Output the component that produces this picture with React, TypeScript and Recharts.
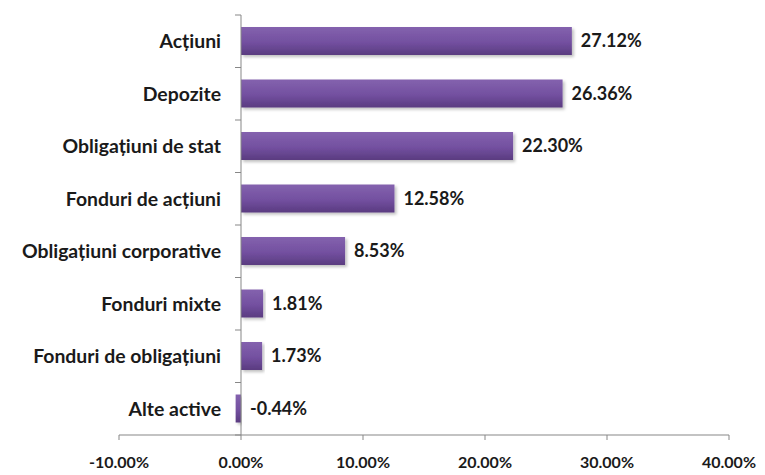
import React from 'react';
import { BarChart, Bar, XAxis, YAxis, ReferenceLine, LabelList } from 'recharts';

const categories = [
  'Acțiuni',
  'Depozite',
  'Obligațiuni de stat',
  'Fonduri de acțiuni',
  'Obligațiuni corporative',
  'Fonduri mixte',
  'Fonduri de obligațiuni',
  'Alte active',
];
const shares = [0.2712, 0.2636, 0.223, 0.1258, 0.0853, 0.0181, 0.0173, -0.0044];
const xTicks = [-0.1, 0, 0.1, 0.2, 0.3, 0.4];

const data = categories.map((name, i) => ({ name, value: shares[i] }));

const W = 765;
const H = 475;
const yAxisWidth = 10;
const plotLeft = 119;
const margin = { top: 15, right: 36, bottom: 0, left: plotLeft - yAxisWidth };
const xAxisHeight = 40;
const domain: [number, number] = [-0.1, 0.4];
const plotW = W - plotLeft - margin.right;
const plotH = H - margin.top - margin.bottom - xAxisHeight;
const zeroX = plotLeft + (plotW * (0 - domain[0])) / (domain[1] - domain[0]);
const band = plotH / categories.length;

const FONT = 'Lato, "Open Sans", sans-serif';
const AXIS = '#878787';

const pct = (v: number) => `${(v * 100).toFixed(2)}%`;

const CategoryTick = (props: any) => {
  const { y, payload, index } = props;
  const last = index === categories.length - 1;
  return (
    <g>
      <line x1={zeroX - 6} x2={zeroX} y1={y - band / 2} y2={y - band / 2} stroke={AXIS} />
      {last && <line x1={zeroX - 6} x2={zeroX} y1={y + band / 2} y2={y + band / 2} stroke={AXIS} />}
      <text
        x={zeroX - 20}
        y={y}
        dy="0.35em"
        textAnchor="end"
        fontFamily={FONT}
        fontWeight={700}
        fontSize={19.4}
        fill="#1a1a1a"
      >
        {payload.value}
      </text>
    </g>
  );
};

const ValueLabel = (props: any) => {
  const { x, y, width, height, value } = props;
  const right = Math.max(x, x + width, zeroX);
  return (
    <text
      x={right + 9}
      y={y + height / 2}
      dy="0.35em"
      fontFamily={FONT}
      fontWeight={700}
      fontSize={18}
      fill="#1a1a1a"
    >
      {pct(value)}
    </text>
  );
};

export default function App() {
  return (
    <div style={{ position: 'absolute', left: 0, top: 0, background: '#fff' }}>
      <BarChart width={W} height={H} data={data} layout="vertical" margin={margin}>
        <defs>
          <linearGradient id="barFill" x1="0" y1="0" x2="0" y2="1">
            <stop offset="0%" stopColor="#8462ae" />
            <stop offset="55%" stopColor="#7350a0" />
            <stop offset="100%" stopColor="#5a3b80" />
          </linearGradient>
          <filter id="barShadow" x="-5%" y="-20%" width="115%" height="160%">
            <feDropShadow dx="2" dy="2" stdDeviation="1.5" floodColor="#000" floodOpacity="0.25" />
          </filter>
        </defs>
        <XAxis
          type="number"
          domain={domain}
          ticks={xTicks}
          tickFormatter={pct}
          height={xAxisHeight}
          stroke={AXIS}
          tickSize={5}
          tickMargin={17}
          interval={0}
          tick={{ fontFamily: FONT, fontWeight: 700, fontSize: 16, fill: '#1a1a1a' }}
          allowDataOverflow
        />
        <YAxis
          type="category"
          dataKey="name"
          width={yAxisWidth}
          axisLine={false}
          tickLine={false}
          interval={0}
          tick={CategoryTick}
        />
        <ReferenceLine x={0} stroke={AXIS} ifOverflow="extendDomain" />
        <Bar
          dataKey="value"
          fill="url(#barFill)"
          barSize={28}
          filter="url(#barShadow)"
          isAnimationActive={false}
        >
          <LabelList dataKey="value" content={<ValueLabel />} />
        </Bar>
      </BarChart>
    </div>
  );
}
